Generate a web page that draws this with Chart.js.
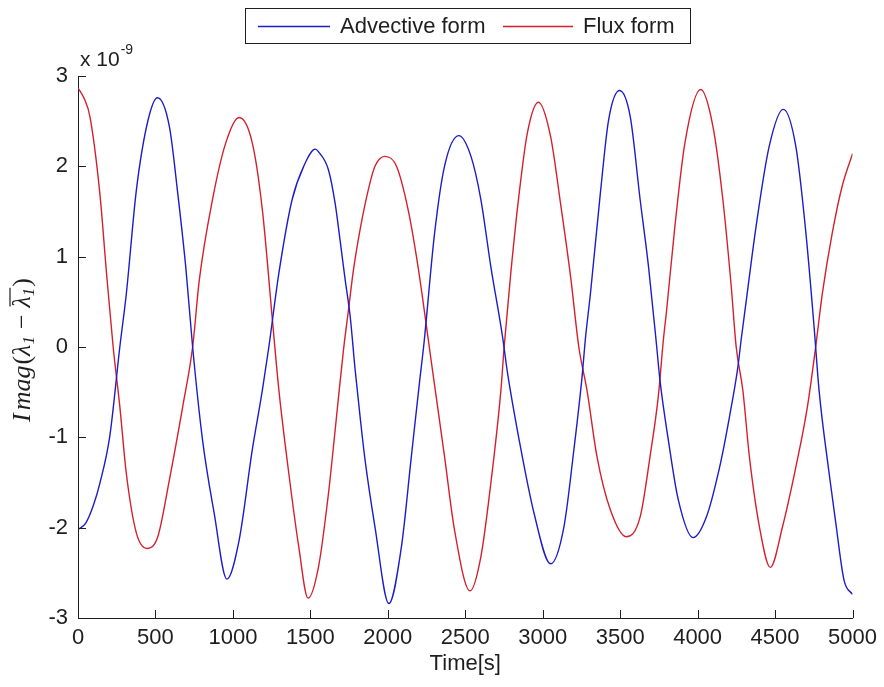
<!DOCTYPE html>
<html>
<head>
<meta charset="utf-8">
<script src="https://cdn.jsdelivr.net/npm/chart.js@4.4.1/dist/chart.umd.min.js"></script>
<style>
  html, body { margin: 0; padding: 0; background: #ffffff; }
  #wrap { width: 884px; height: 687px; }
</style>
</head>
<body>
<div id="wrap"><canvas id="chart" width="884" height="687"></canvas></div>
<script>
// Tick positions
const timeTicks = [0, 500, 1000, 1500, 2000, 2500, 3000, 3500, 4000, 4500, 5000];
const valueTicks = [-3, -2, -1, 0, 1, 2, 3];

// Series labels and axis text
const seriesNames = ['Advective form', 'Flux form'];
const xTitle = 'Time[s]';

// Advective form: time [s] and Imag(λ1 − λ̄1) in units of 1e-9
const advTime = [0, 50, 100, 141, 205, 270, 312, 377, 452, 513, 590, 644, 697, 740, 804, 879, 961,
  1040, 1125, 1190, 1232, 1297, 1382, 1457, 1532, 1553, 1617, 1660, 1692, 1725, 1757, 1789, 1821, 1853, 1917, 2007,
  2088, 2152, 2206, 2234, 2302, 2366, 2458, 2537, 2601, 2665, 2741, 2773, 2848, 2944, 3051,
  3137, 3201, 3254, 3276, 3308, 3372, 3425, 3496, 3565, 3629, 3683, 3736, 3757, 3811, 3875, 3971,
  4057, 4142, 4206, 4260, 4281, 4313, 4377, 4462, 4553, 4634, 4698, 4752, 4784, 4849, 4892, 4945, 5000];
const advValue = [-2.02, -1.95, -1.75, -1.51, -0.99, 0.0, 0.59, 1.74, 2.51, 2.76, 2.44, 1.70, 0.86, 0.0, -1.03, -1.84, -2.57,
  -2.14, -1.14, -0.48, 0.0, 0.82, 1.63, 2.0, 2.19, 2.16, 1.96, 1.59, 1.18, 0.74, 0.34, -0.25, -0.77, -1.25, -1.99, -2.84,
  -2.21, -1.21, -0.37, 0.05, 1.26, 2.0, 2.34, 2.11, 1.63, 0.89, 0.11, -0.29, -1.03, -1.84, -2.40,
  -1.99, -1.14, -0.33, 0.10, 0.59, 1.70, 2.51, 2.84, 2.55, 1.63, 0.89, 0.0, -0.37, -1.03, -1.69, -2.11,
  -1.88, -1.33, -0.77, -0.22, 0.08, 0.50, 1.33, 2.22, 2.63, 2.22, 1.28, 0.22, -0.48, -1.40, -1.95, -2.58, -2.74];

// Flux form: time [s] and Imag(λ1 − λ̄1) in units of 1e-9
const fluxTime = [0, 40, 77, 141, 184, 227, 270, 312, 377, 447, 515, 590, 676, 740, 783, 868, 954,
  1040, 1125, 1190, 1255, 1297, 1361, 1425, 1485, 1553, 1617, 1660, 1682, 1714, 1746, 1778, 1821, 1874, 1917, 1981,
  2056, 2131, 2195, 2259, 2291, 2366, 2431, 2531, 2601, 2665, 2730, 2751, 2794, 2848, 2901, 2972,
  3051, 3115, 3180, 3233, 3286, 3350, 3436, 3539, 3629, 3693, 3746, 3779, 3800, 3853, 3918, 4020,
  4099, 4163, 4217, 4249, 4292, 4334, 4399, 4469, 4548, 4634, 4709, 4762, 4805, 4869, 4933, 5000];
const fluxValue = [2.87, 2.75, 2.55, 1.70, 0.82, 0.0, -0.66, -1.40, -2.06, -2.23, -2.10, -1.47, -0.66, 0.0, 0.74, 1.63, 2.26,
  2.54, 2.26, 1.52, 0.30, -0.48, -1.40, -2.21, -2.78, -2.43, -1.62, -0.92, -0.55, -0.03, 0.41, 0.85, 1.30, 1.74, 2.0, 2.11,
  2.0, 1.52, 0.89, 0.11, -0.29, -1.21, -2.03, -2.70, -2.32, -1.51, -0.48, 0.0, 0.82, 1.70, 2.37, 2.71,
  2.33, 1.59, 0.78, 0.0, -0.48, -1.21, -1.80, -2.10, -1.88, -1.21, -0.55, 0.08, 0.41, 1.33, 2.26, 2.85,
  2.44, 1.63, 0.67, 0.0, -0.48, -1.21, -1.99, -2.44, -1.99, -1.33, -0.66, 0.0, 0.59, 1.26, 1.78, 2.14];

const BLUE = '#1c1cc8';
const RED = '#d4202c';
const INK = '#1e1e1e';
const SANS = '"Liberation Sans", Arial, Helvetica, sans-serif';
const SERIF = '"Liberation Serif", "Times New Roman", serif';

function pairs(xs, ys) { return xs.map((x, i) => ({ x: x, y: ys[i] })); }

// Inward tick marks, boxed legend, exponent label and axis titles
const decorations = {
  id: 'decorations',
  afterDraw(chart) {
    const ctx = chart.ctx;
    const xs = chart.scales.x, ys = chart.scales.y;
    const area = chart.chartArea;
    const tickLen = 8;
    ctx.save();
    ctx.strokeStyle = INK;
    ctx.lineWidth = 1;
    ctx.beginPath();
    timeTicks.forEach(v => {
      const px = Math.round(xs.getPixelForValue(v)) + 0.5;
      ctx.moveTo(px, area.bottom);
      ctx.lineTo(px, area.bottom - tickLen);
    });
    valueTicks.forEach(v => {
      const py = Math.round(ys.getPixelForValue(v)) + 0.5;
      ctx.moveTo(area.left, py);
      ctx.lineTo(area.left + tickLen, py);
    });
    ctx.stroke();

    // exponent label
    ctx.fillStyle = INK;
    ctx.textBaseline = 'alphabetic';
    ctx.textAlign = 'left';
    ctx.font = '21px ' + SANS;
    ctx.fillText('x 10', 80, 66);
    const w10 = ctx.measureText('x 10').width;
    ctx.font = '14px ' + SANS;
    ctx.fillText('-9', 80 + w10 + 1, 54);

    // x axis title
    ctx.font = '22px ' + SANS;
    ctx.textAlign = 'center';
    ctx.textBaseline = 'middle';
    ctx.fillText(xTitle, (area.left + area.right) / 2, 664);

    // y axis title: Imag(λ1 − λ̄1)
    ctx.save();
    ctx.translate(22, 350);
    ctx.rotate(-Math.PI / 2);
    const big = 'italic 26px ' + SERIF;
    const sub = 'italic 17px ' + SERIF;
    const up = '26px ' + SERIF;
    const parts = [
      { t: 'I', f: big, dy: 0, gap: 0 },
      { t: 'mag', f: big, dy: 0, gap: 3 },
      { t: '(', f: up, dy: 0, gap: 1 },
      { t: 'λ', f: big, dy: 0, gap: 0 },
      { t: '1', f: sub, dy: 4, gap: 0 },
      { t: '−', f: up, dy: 0, gap: 7 },
      { t: 'λ', f: big, dy: 0, gap: 7, bar: true },
      { t: '1', f: sub, dy: 4, gap: 0, bar: true },
      { t: ')', f: up, dy: 0, gap: 1 }
    ];
    let total = 0;
    parts.forEach(p => { ctx.font = p.f; p.w = ctx.measureText(p.t).width; total += p.gap + p.w; });
    let cx = -total / 2;
    ctx.textAlign = 'left';
    ctx.textBaseline = 'alphabetic';
    const base = 8;
    let barStart = null, barEnd = null;
    parts.forEach(p => {
      cx += p.gap;
      ctx.font = p.f;
      ctx.fillText(p.t, cx, base + p.dy);
      if (p.bar) { if (barStart === null) barStart = cx; barEnd = cx + p.w; }
      cx += p.w;
    });
    ctx.strokeStyle = INK;
    ctx.lineWidth = 1.2;
    ctx.beginPath();
    ctx.moveTo(barStart + 1, base - 20);
    ctx.lineTo(barEnd, base - 20);
    ctx.stroke();
    ctx.restore();

    // legend
    const lx = 245.5, ly = 8.5, lw = 445, lh = 35;
    ctx.fillStyle = '#ffffff';
    ctx.fillRect(lx, ly, lw, lh);
    ctx.strokeStyle = INK;
    ctx.lineWidth = 1;
    ctx.strokeRect(lx, ly, lw, lh);
    const midY = 26;
    const entries = [
      { name: seriesNames[0], color: BLUE, x0: 258, x1: 330, tx: 340 },
      { name: seriesNames[1], color: RED, x0: 503, x1: 573, tx: 583 }
    ];
    ctx.font = '22px ' + SANS;
    ctx.textAlign = 'left';
    ctx.textBaseline = 'middle';
    entries.forEach(e => {
      ctx.strokeStyle = e.color;
      ctx.lineWidth = 1.3;
      ctx.beginPath();
      ctx.moveTo(e.x0, midY + 0.5);
      ctx.lineTo(e.x1, midY + 0.5);
      ctx.stroke();
      ctx.fillStyle = INK;
      ctx.fillText(e.name, e.tx, midY + 1);
    });
    ctx.restore();
  }
};

new Chart(document.getElementById('chart'), {
  type: 'line',
  data: {
    datasets: [
      { label: seriesNames[0], data: pairs(advTime, advValue), borderColor: BLUE, borderWidth: 1.4,
        pointRadius: 0, cubicInterpolationMode: 'monotone', fill: false },
      { label: seriesNames[1], data: pairs(fluxTime, fluxValue), borderColor: RED, borderWidth: 1.4,
        pointRadius: 0, cubicInterpolationMode: 'monotone', fill: false }
    ]
  },
  options: {
    responsive: false,
    animation: false,
    devicePixelRatio: 1,
    layout: { padding: { top: 76, right: 27, left: 0, bottom: 0 } },
    plugins: { legend: { display: false }, tooltip: { enabled: false } },
    scales: {
      x: {
        type: 'linear', min: 0, max: 5000,
        afterBuildTicks: s => { s.ticks = timeTicks.map(v => ({ value: v })); },
        afterFit: s => { s.height = 69; },
        grid: { display: false, drawTicks: false },
        border: { display: true, color: INK, width: 1 },
        ticks: { color: INK, font: { family: SANS, size: 22 }, padding: 7, maxRotation: 0, autoSkip: false,
                 callback: v => String(v) }
      },
      y: {
        type: 'linear', min: -3, max: 3,
        afterBuildTicks: s => { s.ticks = valueTicks.map(v => ({ value: v })); },
        afterFit: s => { s.width = 78; },
        grid: { display: false, drawTicks: false },
        border: { display: true, color: INK, width: 1 },
        ticks: { color: INK, font: { family: SANS, size: 22 }, padding: 10, autoSkip: false,
                 callback: v => String(v) }
      }
    }
  },
  plugins: [decorations]
});
</script>
</body>
</html>
